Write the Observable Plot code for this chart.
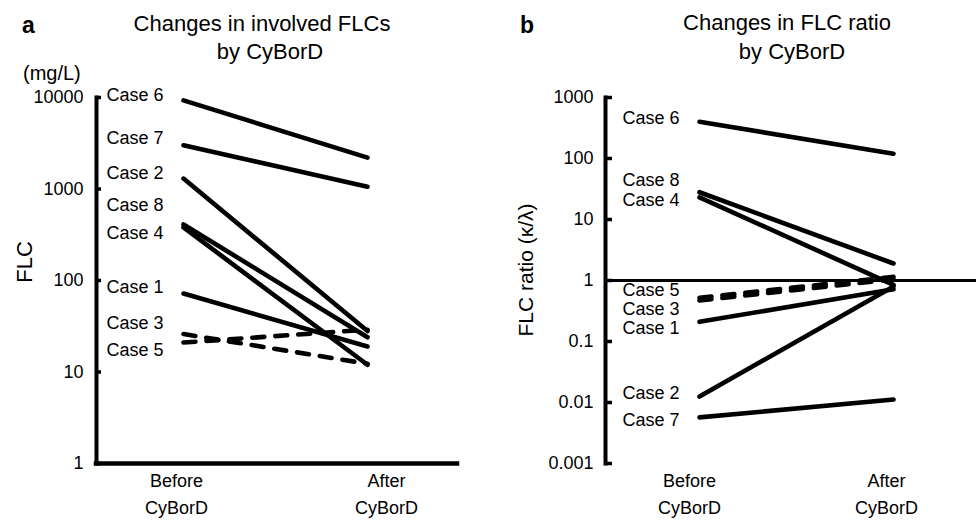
<!DOCTYPE html>
<html>
<head>
<meta charset="utf-8">
<script src="https://cdn.jsdelivr.net/npm/d3@7"></script>
<script src="https://cdn.jsdelivr.net/npm/@observablehq/plot@0.6"></script>
<style>
  html, body { margin: 0; padding: 0; background: white; }
  #wrap { position: relative; width: 976px; height: 520px; overflow: hidden; font-family: "Liberation Sans", Arial, sans-serif; }
  #wrap > .panel { position: absolute; top: 0; }
  #overlay { position: absolute; left: 0; top: 0; pointer-events: none; }
</style>
</head>
<body>
<div id="wrap">
  <div class="panel" id="pa" style="left:0"></div>
  <div class="panel" id="pb" style="left:488px"></div>
  <svg id="overlay" width="976" height="520" font-family="Liberation Sans, Arial, sans-serif" fill="black">
    <text x="22" y="33" font-size="23" font-weight="bold">a</text>
    <text x="520" y="33" font-size="23" font-weight="bold">b</text>
    <text x="262" y="31" font-size="22" text-anchor="middle">Changes in involved FLCs</text>
    <text x="270" y="59" font-size="22" text-anchor="middle">by CyBorD</text>
    <text x="787" y="30" font-size="22" text-anchor="middle">Changes in FLC ratio</text>
    <text x="792" y="59" font-size="22" text-anchor="middle">by CyBorD</text>
    <text x="23" y="80" font-size="20">(mg/L)</text>
    <text transform="translate(32,262) rotate(-90)" font-size="22" text-anchor="middle">FLC</text>
    <text transform="translate(533,270) rotate(-90)" font-size="21" text-anchor="middle">FLC ratio (κ/λ)</text>
  </svg>
</div>
<script>
// ---- data ----
const cases = ["Case 1", "Case 2", "Case 3", "Case 4", "Case 5", "Case 6", "Case 7", "Case 8"];
const flcBefore = [72, 1300, 26, 380, 21, 9300, 3000, 410];
const flcAfter = [19, 28, 12.3, 12, 29, 2200, 1060, 24];
const ratioBefore = [0.21, 0.0125, 0.47, 23, 0.52, 400, 0.0057, 28];
const ratioAfter = [0.72, 0.8, 1.05, 0.85, 1.15, 120, 0.0112, 1.9];
const dashedCases = ["Case 3", "Case 5"];
const flcTicks = [1, 10, 100, 1000, 10000];
const ratioTicks = [0.001, 0.01, 0.1, 1, 10, 100, 1000];
const phases = ["Before\nCyBorD", "After\nCyBorD"];

// ---- layout (label nudges in px) ----
const nudgeA = {"Case 6": -5, "Case 7": -7, "Case 2": -5, "Case 8": -19, "Case 4": 6, "Case 1": -6, "Case 3": -11, "Case 5": 8};
const nudgeB = {"Case 6": -4, "Case 8": -12, "Case 4": 3, "Case 5": -8, "Case 3": 9, "Case 1": 6, "Case 2": -3, "Case 7": 3};

const FONT = "Liberation Sans, Arial, sans-serif";
const LW = 4.6;
const DASH = "12,11";

function panel({before, after, ticks, domain, marginLeft, marginRight, xRange, nudge, phaseDx, tickLen, tickDx, bottomAxis, refLine}) {
  const rows = cases.map((c, i) => ({name: c, before: before[i], after: after[i], dashed: dashedCases.includes(c)}));
  const W = 488, H = 520, mt = 97, mb = H - 463;
  const frameW = W - marginLeft - marginRight;
  const marks = [
    Plot.frame({anchor: "left", strokeWidth: 4}),
    Plot.tickY(ticks, {y: d => d, insetRight: frameW - tickLen, strokeWidth: 3.5}),
    Plot.text(ticks, {y: d => d, frameAnchor: "left", textAnchor: "end", dx: tickDx, text: d => String(d), fontSize: 18}),
  ];
  if (bottomAxis) marks.push(Plot.ruleY([domain[0]], {strokeWidth: 4.5, strokeLinecap: "square"}));
  if (refLine != null) marks.push(Plot.ruleY([refLine], {strokeWidth: 3.2}));
  marks.push(
    Plot.link(rows.filter(d => !d.dashed), {x1: 0, x2: 1, y1: "before", y2: "after", strokeWidth: LW, strokeLinecap: "round"}),
    Plot.link(rows.filter(d => d.dashed), {x1: 0, x2: 1, y1: "before", y2: "after", strokeWidth: LW, strokeLinecap: "round", strokeDasharray: DASH})
  );
  rows.forEach(d => marks.push(
    Plot.text([d], {x: 0, y: "before", text: "name", textAnchor: "start", dx: -77, dy: nudge[d.name], fontSize: 18})
  ));
  phases.forEach((p, i) => marks.push(
    Plot.text([p], {x: i, frameAnchor: "bottom", lineAnchor: "top", dy: 4, dx: phaseDx[i], text: d => d, lineHeight: 1.5, fontSize: 18})
  ));
  return Plot.plot({
    width: W, height: H,
    marginTop: mt, marginBottom: mb, marginLeft, marginRight,
    x: {domain: [0, 1], range: xRange, axis: null},
    y: {type: "log", domain, axis: null},
    style: {fontFamily: FONT, background: "white", color: "black", overflow: "visible"},
    marks
  });
}

document.getElementById("pa").append(panel({
  before: flcBefore, after: flcAfter, ticks: flcTicks, domain: [1, 10000],
  marginLeft: 96, marginRight: 31, xRange: [183, 367], nudge: nudgeA,
  phaseDx: [-7, 19], tickLen: 5, tickDx: -13, bottomAxis: true, refLine: null
}));
document.getElementById("pb").append(panel({
  before: ratioBefore, after: ratioAfter, ticks: ratioTicks, domain: [0.001, 1000],
  marginLeft: 117, marginRight: 0, xRange: [211, 405], nudge: nudgeB,
  phaseDx: [-10, -7], tickLen: 7, tickDx: -12, bottomAxis: false, refLine: 1
}));
</script>
</body>
</html>
